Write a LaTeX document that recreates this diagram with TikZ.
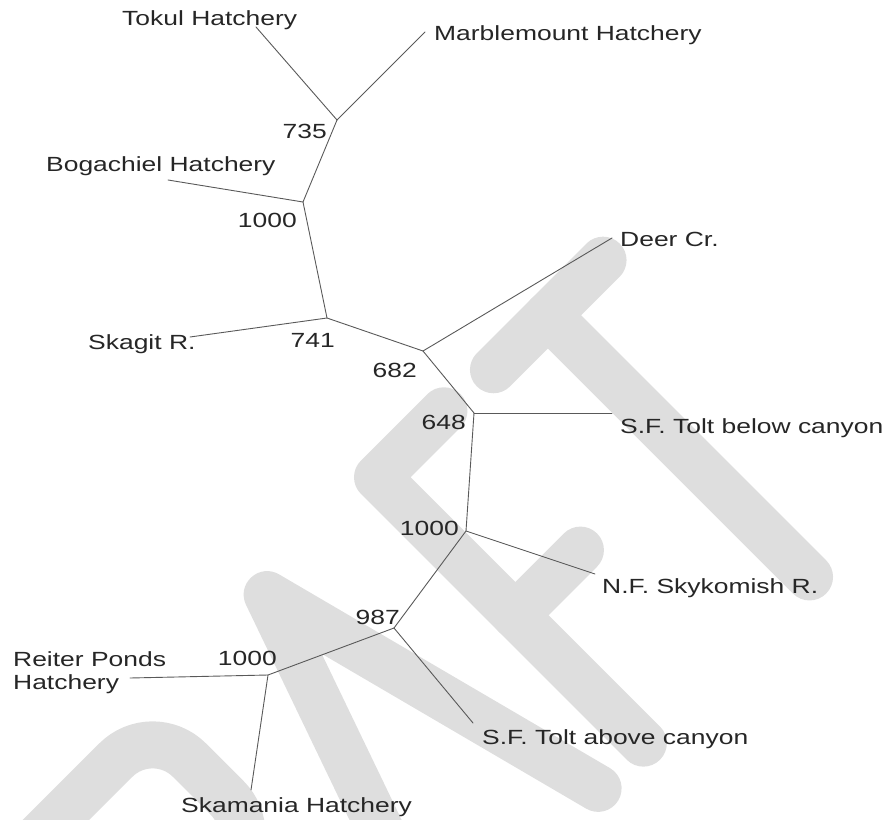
\documentclass[tikz,border=0pt]{standalone}
\usepackage{fontspec}
\setmainfont{Liberation Sans}[FakeStretch=1.29]
\usepackage{tikz}

\begin{document}
\begin{tikzpicture}[
    x=1pt, y=-1pt, line cap=round, line join=round,
    branch/.style ={draw=black!65, line width=0.9pt},
    leaf/.style   ={anchor=base west, inner sep=0pt, text=black!85, font=\fontsize{20.5}{23}\selectfont},
    boot/.style   ={anchor=base east, inner sep=0pt, text=black!85, font=\fontsize{20.5}{23}\selectfont},
    wmark/.style  ={draw=black!13, line width=47pt, line cap=round, line join=round}
]
\useasboundingbox (0,0) rectangle (891,819);

% watermark (DRAFT, turned 45 degrees, cut by the frame)
\begin{scope}
\clip (0,0) rectangle (891,819);
\begin{scope}[shift={(637,741)}, x={(0.7071pt,0.7071pt)}, y={(-0.7071pt,0.7071pt)}]
% R
\draw[wmark] (-560,-6) -- (-560,355) -- (-382,355) arc[start angle=90, end angle=0, radius=52]
  -- (-330,250) arc[start angle=0, end angle=-90, radius=52] -- (-560,198);
\draw[wmark] (-440,198) -- (-350,-6);
% A
\draw[wmark] (-288,-6) -- (-158,365) -- (-61,-6);
% F
\draw[wmark] (97,370) -- (3,370) -- (3,-6);
\draw[wmark] (3,175) -- (95,175);
% T
\draw[wmark] (161,364) -- (316,364);
\draw[wmark] (238,364) -- (238,-6);
\end{scope}
\end{scope}

% inner nodes
\coordinate (n735)  at (337,120);
\coordinate (n1000a) at (303,202);
\coordinate (n741)  at (327,318);
\coordinate (n682)  at (423,351);
\coordinate (n648)  at (474,413);
\coordinate (n1000b) at (466,531);
\coordinate (n987)  at (394,628);
\coordinate (n1000c) at (268,675);

% branch tips
\coordinate (tokul)    at (256,27);
\coordinate (marble)   at (425,32);
\coordinate (bogachiel) at (168,180);
\coordinate (skagit)   at (190,337);
\coordinate (deer)     at (612,238);
\coordinate (sfbelow)  at (612,413);
\coordinate (nfsky)    at (595,574);
\coordinate (sfabove)  at (473,723);
\coordinate (reiter)   at (130,678);
\coordinate (skamania) at (251,790);

% branches
\draw[branch] (n735) -- (tokul);
\draw[branch] (n735) -- (marble);
\draw[branch] (n735) -- (n1000a);
\draw[branch] (n1000a) -- (bogachiel);
\draw[branch] (n1000a) -- (n741);
\draw[branch] (n741) -- (skagit);
\draw[branch] (n741) -- (n682);
\draw[branch] (n682) -- (deer);
\draw[branch] (n682) -- (n648);
\draw[branch] (n648) -- (sfbelow);
\draw[branch] (n648) -- (n1000b);
\draw[branch] (n1000b) -- (nfsky);
\draw[branch] (n1000b) -- (n987);
\draw[branch] (n987) -- (sfabove);
\draw[branch] (n987) -- (n1000c);
\draw[branch] (n1000c) -- (reiter);
\draw[branch] (n1000c) -- (skamania);

% population names
\node[leaf] (tokulL)    at (122,25)  {Tokul Hatchery};
\node[leaf] (marbleL)   at (434,40)  {Marblemount Hatchery};
\node[leaf] (bogachielL) at (46,171) {Bogachiel Hatchery};
\node[leaf] (deerL)     at (620,246) {Deer Cr.};
\node[leaf] (skagitL)   at (88,349)  {Skagit R.};
\node[leaf] (sfbelowL)  at (620,433) {S.F. Tolt below canyon};
\node[leaf] (nfskyL)    at (602,593) {N.F. Skykomish R.};
\node[leaf] (sfaboveL)  at (482,744) {S.F. Tolt above canyon};
\node[leaf, anchor=north west, align=left] (reiterL) at (13,651) {Reiter Ponds\\Hatchery};
\node[leaf] (skamaniaL) at (181,812) {Skamania Hatchery};

% bootstrap values
\node[boot] (b735)   at (327,138) {735};
\node[boot] (b1000a) at (297,227) {1000};
\node[boot] (b741)   at (335,347) {741};
\node[boot] (b682)   at (417,377) {682};
\node[boot] (b648)   at (466,429) {648};
\node[boot] (b1000b) at (459,535) {1000};
\node[boot] (b987)   at (400,624) {987};
\node[boot] (b1000c) at (277,665) {1000};
\end{tikzpicture}
\end{document}
